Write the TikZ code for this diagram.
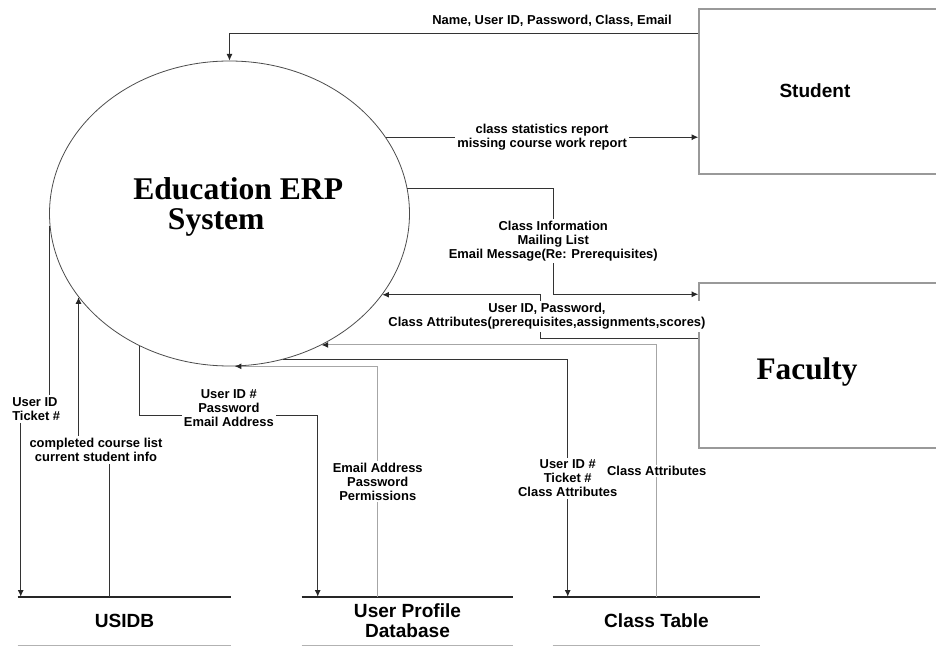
\documentclass[tikz,border=0pt]{standalone}
\usepackage{fontspec}
\setmainfont{Liberation Serif}
\setsansfont{Liberation Sans}
\usetikzlibrary{shapes.geometric,arrows.meta,calc}

\tikzset{
  flow/.style={draw=black!80, line width=0.75pt, -{Latex[length=5pt,width=4.5pt,color=black!85]}},
  flowline/.style={draw=black!80, line width=0.75pt},
  paleflow/.style={flow, draw=gray!70},
  lbl/.style={font=\sffamily\bfseries\fontsize{9.7}{10.5}\selectfont, align=center, fill=white, inner sep=1.5pt},
  entity/.style={draw=gray!80, line width=1.1pt, minimum width=184.5pt, minimum height=123.75pt, inner sep=0pt},
  store/.style={minimum height=36pt, inner sep=0pt, align=center, font=\sffamily\bfseries\fontsize{14.3}{15}\selectfont},
  storetop/.style={draw=black!85, line width=1.8pt},
  storebot/.style={draw=gray!60, line width=0.6pt},
}

\begin{document}
\begin{tikzpicture}[x=0.75pt,y=0.75pt]

	%Background
	\useasboundingbox (0,0) rectangle (936,647);
	\clip (0,0) rectangle (936,647);
	\fill[white] (0,0) rectangle (936,647);

	%Process
	\node[ellipse, draw=black!70, line width=0.6pt, minimum width=270pt, minimum height=228.75pt, inner sep=0pt] (sys) at (229.5,433.5) {};
	\node[anchor=west, align=left, inner sep=0pt, font=\bfseries\fontsize{23.7}{22.5}\selectfont] (systxt) at (133,440) {Education ERP\\\hspace*{26pt}System};

	%Entities
	\node[entity] (student) at (822,555.5) {};
	\node[font=\sffamily\bfseries\fontsize{14.3}{15}\selectfont] (studenttxt) at (815,556) {Student};
	\node[entity] (faculty) at (822,281.5) {};
	\node[font=\bfseries\fontsize{23.5}{26}\selectfont] (facultytxt) at (807,275) {Faculty};

	%Stores
	\node[store, minimum width=159.75pt] (usidb) at (124.5,26) {USIDB};
	\draw[storetop] (usidb.north west) -- (usidb.north east);
	\draw[storebot] (usidb.south west) -- (usidb.south east);

	\node[store, minimum width=158.25pt] (upd) at (407.5,26) {User Profile\\Database};
	\draw[storetop] (upd.north west) -- (upd.north east);
	\draw[storebot] (upd.south west) -- (upd.south east);

	\node[store, minimum width=155.25pt] (ct) at (656.5,26) {Class Table};
	\draw[storetop] (ct.north west) -- (ct.north east);
	\draw[storebot] (ct.south west) -- (ct.south east);

	%Points on the entities and stores
	\coordinate (st-in) at ($(student.north west)+(0,-25)$);
	\coordinate (fa-in) at ($(faculty.north west)+(0,-12)$);
	\coordinate (fa-out) at ($(faculty.north west)+(0,-56)$);
	\coordinate (usidb-in) at ($(usidb.north west)+(3,0)$);
	\coordinate (usidb-out) at ($(usidb.north west)+(92,0)$);
	\coordinate (upd-in) at ($(upd.north west)+(16,0)$);
	\coordinate (upd-out) at ($(upd.north west)+(76,0)$);
	\coordinate (ct-in) at ($(ct.north west)+(15,0)$);
	\coordinate (ct-out) at ($(ct.north west)+(104,0)$);

	%Student
	\node[lbl, fill=none] (lblname) at (552,626) {Name, User ID, Password, Class, Email};
	\draw[flow] (st-in) -| (sys.north);
	\draw[flow] (sys.26) -- (sys.26 -| student.west) node[lbl, midway] {class statistics report\\missing course work report};

	%Faculty
	\draw[flow] (sys.8) -| node[lbl, pos=0.75] {Class Information\\Mailing List\\Email Message(Re: Prerequisites)} ($(fa-in)+(-145,0)$) -- (fa-in);
	\draw[flow] (fa-out) -| node[lbl, pos=0.75, xshift=5pt] {User ID, Password,\\Class Attributes(prerequisites,assignments,scores)} ($(sys.-28)+(158,0)$) -- (sys.-28);

	%Class Table
	\draw[flow] (sys.-70.5) -| node[lbl, pos=0.75] {User ID \#\\Ticket \#\\Class Attributes} (ct-in);
	\draw[paleflow] (ct-out) |- node[lbl, pos=0.25, inner sep=1pt] {Class Attributes} (sys.-55);

	%User Profile Database
	\draw[paleflow] (upd-out) |- node[lbl, pos=0.25] {Email Address\\Password\\Permissions} (sys.-88);
	\draw[flow] (sys.-124.5) |- node[lbl, pos=0.75, yshift=6pt] {User ID \#\\Password\\Email Address} ($(upd-in)+(0,181)$) -- (upd-in);

	%USIDB
	\node[lbl, fill=none, anchor=west, align=left] (lblut) at (10,238) {User ID\\Ticket \#};
	\draw[flowline] (sys.184.6) -- (sys.184.6 |- lblut.north);
	\draw[flow] (lblut.south -| usidb-in) -- (usidb-in);

	\node[lbl, fill=none] (lblcc) at (96,197) {completed course list\\current student info};
	\draw[flowline] (usidb-out) -- (usidb-out |- lblcc.south);
	\draw[flow] (lblcc.north -| sys.209) -- (sys.209);

\end{tikzpicture}
\end{document}
